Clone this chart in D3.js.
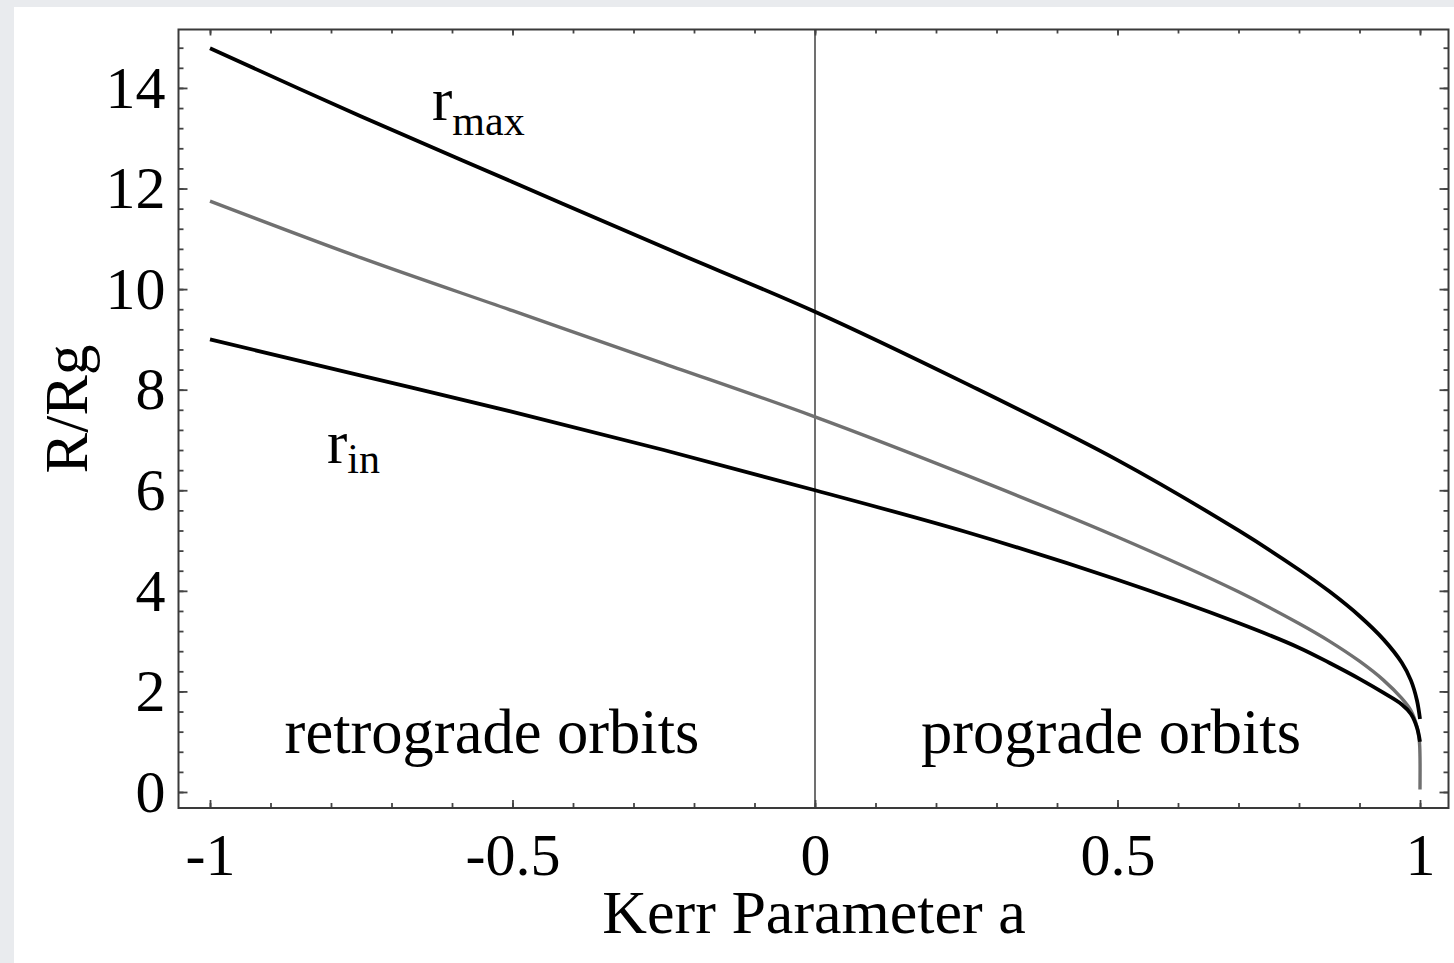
<!DOCTYPE html>
<html>
<head>
<meta charset="utf-8">
<script src="https://cdn.jsdelivr.net/npm/d3@7"></script>
<style>
  body { margin: 0; background: #e9ebee; }
  svg { display: block; }
  text { font-family: "Liberation Serif", "Times New Roman", serif; fill: #000; }
</style>
</head>
<body>
<div id="myDiv"></div>
<script>
// values: Kerr parameter a vs radius in units of Rg
var rMaxData = [[-1, 14.79], [-0.75, 13.43], [-0.5, 12.13], [-0.25, 10.83], [0, 9.55], [0.25, 8.12],
  [0.5, 6.6], [0.7, 5.2], [0.8, 4.42], [0.85, 3.99], [0.9, 3.5], [0.94, 3.03], [0.97, 2.57],
  [0.985, 2.22], [0.995, 1.82], [1, 1.45]];
var rMidData = [[-1, 11.75], [-0.75, 10.62], [-0.5, 9.57], [-0.25, 8.52], [0, 7.46], [0.25, 6.3],
  [0.5, 5.07], [0.7, 3.98], [0.8, 3.35], [0.85, 3.0], [0.9, 2.6], [0.94, 2.22], [0.97, 1.86],
  [0.985, 1.62], [0.995, 1.3], [0.999, 1.0], [1, 0.7], [1, 0.05]];
var rInData = [[-1, 9.0], [-0.75, 8.28], [-0.5, 7.56], [-0.25, 6.8], [0, 6.0], [0.25, 5.17],
  [0.5, 4.22], [0.7, 3.36], [0.8, 2.87], [0.85, 2.57], [0.9, 2.25], [0.94, 1.97], [0.97, 1.74],
  [0.985, 1.55], [0.995, 1.28], [1, 1.0]];

var xMajor = [-1, -0.5, 0, 0.5, 1];
var xMinor = d3.range(-10, 11).map(function (i) { return i / 10; });
var yMajor = [0, 2, 4, 6, 8, 10, 12, 14];
var yMinor = d3.range(0, 38).map(function (i) { return i * 0.4; });

var xTitle = 'Kerr Parameter a';
var yTitle = 'R/Rg';

//--------------------------------------------------
var W = 1454, H = 963;
var frame = {left: 178.5, right: 1448.5, top: 29.5, bottom: 808};

var svg = d3.select('#myDiv').append('svg')
  .attr('width', W).attr('height', H);

// white page panel
svg.append('rect').attr('x', 14).attr('y', 7)
  .attr('width', W - 14).attr('height', H - 7).attr('fill', '#fff');

// a = -1 sits at 210, a = 1 at 1420; r = 0 at 792, 50.29 px per unit
var x = d3.scaleLinear()
  .domain([(frame.left - 815) / 605, (frame.right - 815) / 605])
  .range([frame.left, frame.right]);
var y = d3.scaleLinear()
  .domain([-(frame.bottom - 792) / 50.29, (792 - frame.top) / 50.29])
  .range([frame.bottom, frame.top]);

function fmt(d) { return String(d); } // plain hyphen minus like the original

// a = 0 divider
svg.append('line')
  .attr('x1', x(0)).attr('x2', x(0))
  .attr('y1', frame.top).attr('y2', frame.bottom)
  .attr('stroke', '#707070').attr('stroke-width', 2);

// curves
var line = d3.line()
  .x(function (d) { return x(d[0]); })
  .y(function (d) { return y(d[1]); })
  .curve(d3.curveCatmullRom.alpha(0.5));

svg.append('path').datum(rMidData).attr('d', line)
  .attr('fill', 'none').attr('stroke', '#707070').attr('stroke-width', 3.4);
svg.append('path').datum(rInData).attr('d', line)
  .attr('fill', 'none').attr('stroke', '#000').attr('stroke-width', 3.8);
svg.append('path').datum(rMaxData).attr('d', line)
  .attr('fill', 'none').attr('stroke', '#000').attr('stroke-width', 3.8);

// axes, ticks pointing inward
function styleAxis(g) {
  g.select('.domain').remove();
  g.selectAll('.tick line').attr('stroke', '#444').attr('stroke-width', 1.8);
  g.selectAll('.tick text').attr('font-size', 60).attr('fill', '#000')
    .style('font-family', '"Liberation Serif", serif');
}

svg.append('g').attr('transform', 'translate(0,' + frame.bottom + ')')
  .call(d3.axisBottom(x).tickValues(xMinor).tickFormat('').tickSize(-5))
  .call(styleAxis);
svg.append('g').attr('transform', 'translate(0,' + frame.bottom + ')')
  .call(d3.axisBottom(x).tickValues(xMajor).tickFormat(fmt).tickSize(-8).tickPadding(24))
  .call(styleAxis);
svg.append('g').attr('transform', 'translate(0,' + frame.top + ')')
  .call(d3.axisTop(x).tickValues(xMinor).tickFormat('').tickSize(-4))
  .call(styleAxis);
svg.append('g').attr('transform', 'translate(0,' + frame.top + ')')
  .call(d3.axisTop(x).tickValues(xMajor).tickFormat('').tickSize(-6))
  .call(styleAxis);

svg.append('g').attr('transform', 'translate(' + frame.left + ',0)')
  .call(d3.axisLeft(y).tickValues(yMinor).tickFormat('').tickSize(-5))
  .call(styleAxis);
svg.append('g').attr('transform', 'translate(' + frame.left + ',0)')
  .call(d3.axisLeft(y).tickValues(yMajor).tickFormat(fmt).tickSize(-9).tickPadding(13))
  .call(styleAxis);
svg.append('g').attr('transform', 'translate(' + frame.right + ',0)')
  .call(d3.axisRight(y).tickValues(yMinor).tickFormat('').tickSize(-5))
  .call(styleAxis);
svg.append('g').attr('transform', 'translate(' + frame.right + ',0)')
  .call(d3.axisRight(y).tickValues(yMajor).tickFormat('').tickSize(-9))
  .call(styleAxis);

// frame
svg.append('rect')
  .attr('x', frame.left).attr('y', frame.top)
  .attr('width', frame.right - frame.left).attr('height', frame.bottom - frame.top)
  .attr('fill', 'none').attr('stroke', '#3a3a3a').attr('stroke-width', 2);

// titles
svg.append('text').attr('x', 814).attr('y', 933)
  .attr('text-anchor', 'middle').attr('font-size', 62).text(xTitle);
svg.append('text').attr('transform', 'translate(87,409) rotate(-90)')
  .attr('text-anchor', 'middle').attr('font-size', 61).text(yTitle);

// curve labels
var lMax = svg.append('text').attr('x', 432).attr('y', 120).attr('font-size', 61);
lMax.append('tspan').text('r');
lMax.append('tspan').attr('dy', 15).attr('font-size', 42).text('max');
var lIn = svg.append('text').attr('x', 327).attr('y', 463).attr('font-size', 61);
lIn.append('tspan').text('r');
lIn.append('tspan').attr('dy', 10).attr('font-size', 42).text('in');

svg.append('text').attr('x', 492).attr('y', 753).attr('text-anchor', 'middle')
  .attr('font-size', 62.5).text('retrograde orbits');
svg.append('text').attr('x', 1111).attr('y', 753).attr('text-anchor', 'middle')
  .attr('font-size', 62.5).text('prograde orbits');
</script>
</body>
</html>
